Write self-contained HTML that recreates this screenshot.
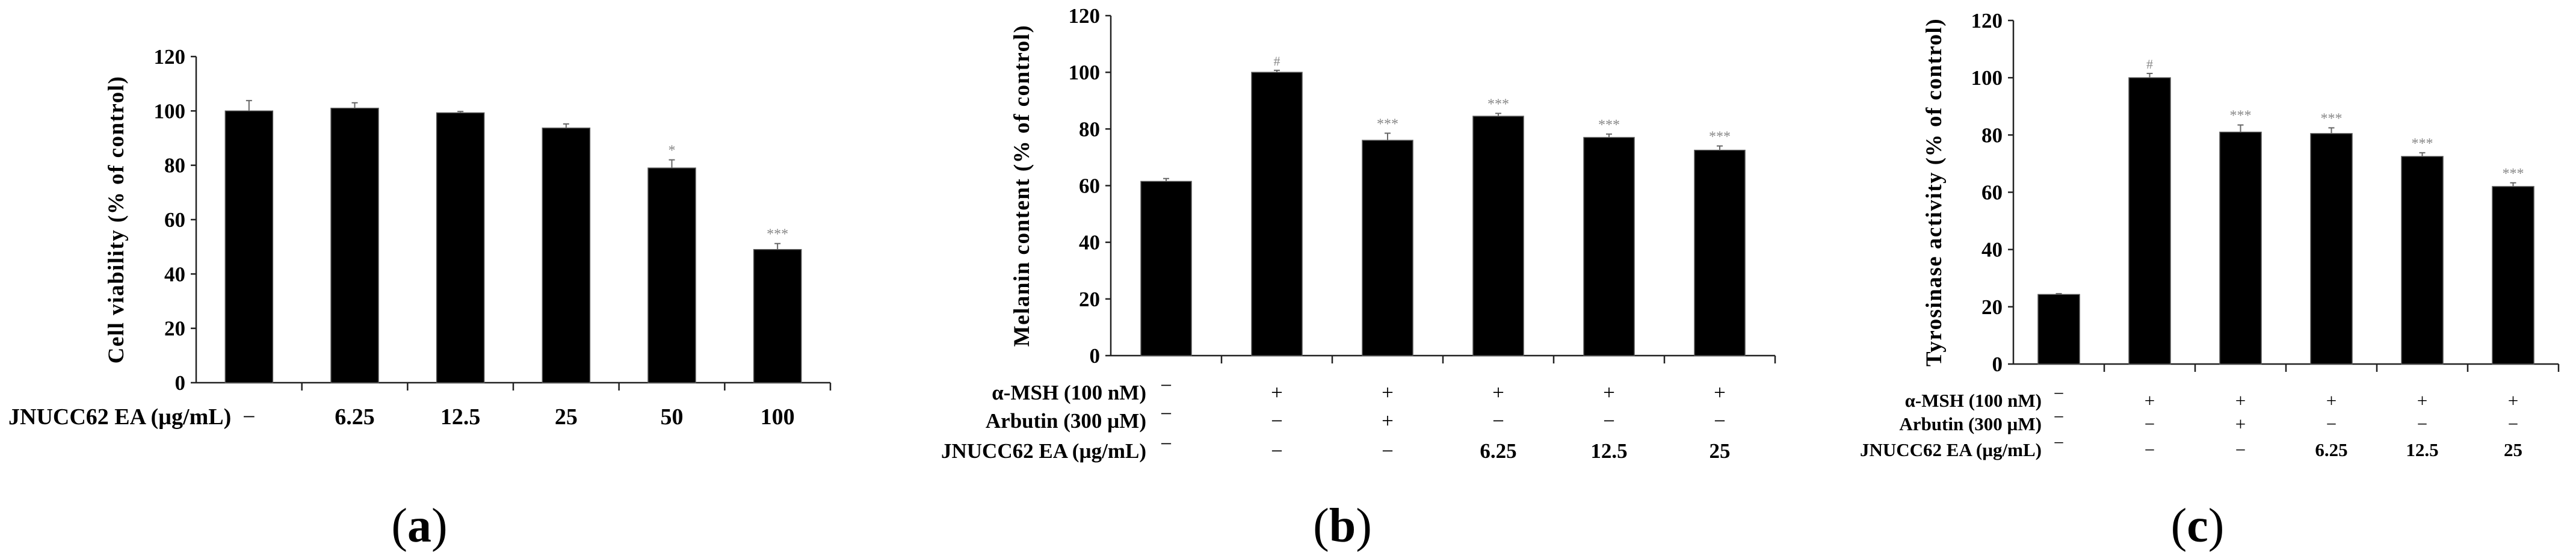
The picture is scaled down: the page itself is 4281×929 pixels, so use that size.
<!DOCTYPE html>
<html><head><meta charset="utf-8">
<style>
html,body{margin:0;padding:0;background:#fff;}
svg{display:block;}
text{font-family:"Liberation Serif",serif;font-weight:bold;fill:#000;}
</style></head>
<body>
<svg id="fig" width="4281" height="929" viewBox="0 0 4281 929" xmlns="http://www.w3.org/2000/svg"></svg>
<script>
// ---- data ----
const yTicks = [0, 20, 40, 60, 80, 100, 120];
const aCategories = ["\u2212", "6.25", "12.5", "25", "50", "100"];
const aValues = [100, 101, 99.3, 93.7, 79, 49];
const aErrors = [3.8, 2, 0.5, 1.5, 3, 2.2];
const aMarks = ["", "", "", "", "*", "***"];
const bValues = [61.5, 100, 76, 84.5, 77, 72.5];
const bErrors = [1, 0.7, 2.5, 1, 1.2, 1.5];
const bMarks = ["", "#", "***", "***", "***", "***"];
const cValues = [24.3, 100, 81, 80.5, 72.5, 62];
const cErrors = [0.3, 1.5, 2.5, 2, 1.3, 1.3];
const cMarks = ["", "#", "***", "***", "***", "***"];
const mshRow = ["\u2212", "+", "+", "+", "+", "+"];
const arbRow = ["\u2212", "\u2212", "+", "\u2212", "\u2212", "\u2212"];
const eaRow = ["\u2212", "\u2212", "\u2212", "6.25", "12.5", "25"];

const NS = "http://www.w3.org/2000/svg";
const svg = document.getElementById("fig");
function mk(tag, attrs, parent, txt){
  const e = document.createElementNS(NS, tag);
  for (const k in attrs) e.setAttribute(k, attrs[k]);
  if (txt !== undefined) e.textContent = txt;
  (parent || svg).appendChild(e);
  return e;
}

function panel(p){
  const g = mk("g", {});
  
  
  const n = p.values.length;
  const cw = (p.x1 - p.x0) / n;
  const ys = v => p.y0 - (v / 120) * (p.y0 - p.yTop);
  const xs = i => p.x0 + cw * (i + 0.5);
  const ya = mk("line", {x1:p.x0, y1:p.yTop, x2:p.x0, y2:p.y0, stroke:"#222", "stroke-width":2.5}, g);
  
  
  const xa = mk("line", {x1:p.x0, y1:p.y0, x2:p.x1, y2:p.y0, stroke:"#222", "stroke-width":2.5}, g);
  
  
  yTicks.forEach(t => {
    mk("line", {x1:p.x0-9, y1:ys(t), x2:p.x0, y2:ys(t), stroke:"#222", "stroke-width":2.5}, g);
    const tl = mk("text", {x:p.x0-18, y:ys(t)+12, "text-anchor":"end", "font-size":35}, g, String(t));
    
    
  });
  for (let i = 1; i <= n; i++){
    const x = p.x0 + cw * i;
    mk("line", {x1:x, y1:p.y0, x2:x, y2:p.y0+13, stroke:"#222", "stroke-width":2.5}, g);
  }
  const yt = mk("text", {x:0, y:0, "text-anchor":"middle", "font-size":37, "letter-spacing":"1.5",
    transform:`translate(${p.titleX},${(p.yTop+p.y0)/2}) rotate(-90)`}, g, p.title);
  
  
  p.values.forEach((v, i) => {
    const b = mk("rect", {x:xs(i)-p.bw/2, y:ys(v), width:p.bw, height:p.y0-ys(v), fill:"#000", stroke:"#555", "stroke-width":1.5}, g);
    
    
    const e = p.errors[i];
    mk("line", {x1:xs(i), y1:ys(v+e), x2:xs(i), y2:ys(v), stroke:"#666", "stroke-width":2}, g);
    mk("line", {x1:xs(i)-5, y1:ys(v+e), x2:xs(i)+5, y2:ys(v+e), stroke:"#666", "stroke-width":2}, g);
    if (p.marks[i]){
      const m = mk("text", {x:xs(i), y:ys(v+e)-8, "text-anchor":"middle", "font-size":p.marks[i]==="#"?22:24, style:"fill:#888;font-weight:normal"}, g, p.marks[i]);
      
      
    }
  });
  p.rows.forEach(r => {
    const lab = mk("text", {x:r.lx, y:r.y, "text-anchor":r.anchor, "font-size":p.rowFont}, g, r.label);
    
    
    r.vals.forEach((t, i) => {
      const isSym = (t === "+" || t === "\u2212");
      const y = (i === 0 && p.firstRaised) ? r.y - 12 : r.y;
      const c = mk("text", {x:xs(i), y:y, "text-anchor":"middle", "font-size":p.rowFont, style:isSym?"font-weight:normal":""}, g, t);
      
      
    });
  });
  const cap = mk("text", {x:p.capX, y:900, "text-anchor":"middle", "font-size":80, style:"font-weight:normal"}, g);
  
  
  mk("tspan", {}, cap, "(");
  mk("tspan", {style:"font-weight:bold"}, cap, p.cap);
  mk("tspan", {}, cap, ")");
}

panel({name:"panel-a-cell-viability", x0:326, x1:1380, yTop:94, y0:636, bw:79, titleX:205,
  title:"Cell viability (% of control)", values:aValues, errors:aErrors, marks:aMarks, rowFont:38,
  rows:[{label:"JNUCC62 EA (\u00b5g/mL)", lx:14, anchor:"start", y:705, vals:aCategories}],
  capX:697, cap:"a", firstRaised:false});
panel({name:"panel-b-melanin-content", x0:1846, x1:2950, yTop:26, y0:591, bw:84, titleX:1710,
  title:"Melanin content (% of control)", values:bValues, errors:bErrors, marks:bMarks, rowFont:35,
  rows:[{label:"\u03b1-MSH (100 nM)", lx:1905, anchor:"end", y:664, vals:mshRow},
        {label:"Arbutin (300 \u00b5M)", lx:1905, anchor:"end", y:711, vals:arbRow},
        {label:"JNUCC62 EA (\u00b5g/mL)", lx:1905, anchor:"end", y:761, vals:eaRow}],
  capX:2231, cap:"b", firstRaised:true});
panel({name:"panel-c-tyrosinase-activity", x0:3346, x1:4252, yTop:34, y0:605, bw:69, titleX:3226,
  title:"Tyrosinase activity (% of control)", values:cValues, errors:cErrors, marks:cMarks, rowFont:31,
  rows:[{label:"\u03b1-MSH (100 nM)", lx:3393, anchor:"end", y:676, vals:mshRow},
        {label:"Arbutin (300 \u00b5M)", lx:3393, anchor:"end", y:715, vals:arbRow},
        {label:"JNUCC62 EA (\u00b5g/mL)", lx:3393, anchor:"end", y:758, vals:eaRow}],
  capX:3652, cap:"c", firstRaised:true});
</script>
</body></html>
